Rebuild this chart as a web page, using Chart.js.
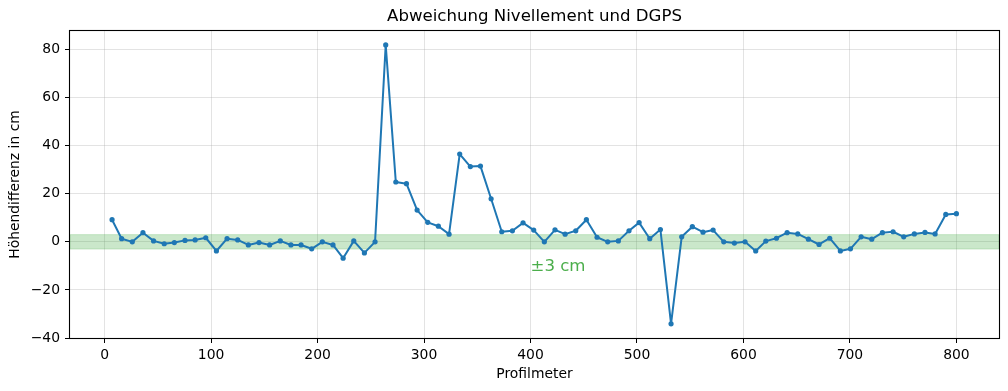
<!DOCTYPE html>
<html>
<head>
<meta charset="utf-8">
<script src="https://cdn.jsdelivr.net/npm/chart.js@4"></script>
<style>
  body { margin: 0; background: #fff; }
  canvas { display: block; }
</style>
</head>
<body>
<canvas id="deviationChart" width="1008" height="391"></canvas>
<script>
// Profilmeter (m) and Höhendifferenz (cm)
const profileMeters = [
  7, 16, 26, 36, 46, 56, 65.5, 75.5, 85, 95,
  105, 115, 125, 135, 145, 155, 165, 175, 184.5, 194.5,
  204.5, 214.5, 224, 234, 244, 254, 264, 273.5, 283.5, 293.5,
  303.5, 313.5, 323.5, 333.5, 343.5, 353, 363, 373, 383, 393,
  403, 413, 423, 432.5, 442.5, 452.5, 462.5, 472.5, 482.5, 492.5,
  502, 512, 522, 532, 542, 552, 562, 571.5, 581.5, 591.5,
  601.5, 611.5, 621, 631, 641, 651, 661, 671, 681, 691,
  700.5, 710.5, 720.5, 730.5, 740.5, 750.5, 760.5, 770.5, 780, 790,
  800
];
const heightDiff = [
  9.2, 1.3, 0, 3.8, 0.4, -0.8, -0.3, 0.6, 0.8, 1.7,
  -3.8, 1.3, 0.8, -1.3, -0.3, -1.3, 0.4, -1.3, -1.3, -2.9,
  0, -1.3, -6.8, 0.4, -4.6, 0, 81.9, 24.9, 24.2, 13.2,
  8.1, 6.5, 3.2, 36.5, 31.3, 31.5, 17.9, 4.2, 4.6, 7.9,
  4.9, 0, 5, 3.2, 4.6, 9.2, 1.9, 0, 0.4, 4.6,
  8, 1.3, 5.1, -34.1, 2.1, 6.3, 4, 4.9, 0, -0.5,
  0, -3.8, 0.3, 1.5, 3.8, 3.3, 1.1, -1.1, 1.5, -3.8,
  -2.9, 2.1, 1.1, 3.8, 4.2, 2.1, 3.3, 3.9, 3.3, 11.4,
  11.7
];
const xTicks = [0, 100, 200, 300, 400, 500, 600, 700, 800];
const yTicks = [-40, -20, 0, 20, 40, 60, 80];
const tolerance = 3; // ±3 cm band

const fontFamily = '"DejaVu Sans", sans-serif';
const gridColor = 'rgba(176, 176, 176, 0.35)';

// band, frame, title and band label
const extrasPlugin = {
  id: 'extras',
  beforeDatasetsDraw(chart) {
    const {ctx, chartArea, scales} = chart;
    const yTop = scales.y.getPixelForValue(tolerance);
    const yBot = scales.y.getPixelForValue(-tolerance);
    ctx.save();
    ctx.fillStyle = 'rgba(44, 160, 44, 0.25)';
    ctx.fillRect(chartArea.left, yTop, chartArea.right - chartArea.left, yBot - yTop);
    ctx.strokeStyle = 'rgba(44, 160, 44, 0.2)';
    ctx.lineWidth = 1;
    ctx.strokeRect(chartArea.left, yTop, chartArea.right - chartArea.left, yBot - yTop);
    ctx.restore();
  },
  afterDraw(chart) {
    const {ctx, chartArea, scales} = chart;
    ctx.save();
    ctx.strokeStyle = '#000';
    ctx.lineWidth = 1.1;
    ctx.strokeRect(chartArea.left - 0.5, chartArea.top - 0.5,
      chartArea.right - chartArea.left + 1, chartArea.bottom - chartArea.top + 1);

    ctx.fillStyle = 'rgba(44, 160, 44, 0.85)';
    ctx.font = '16.6px ' + fontFamily;
    ctx.textAlign = 'left';
    ctx.textBaseline = 'alphabetic';
    ctx.fillText('±3 cm', scales.x.getPixelForValue(400), scales.y.getPixelForValue(-12.3));

    ctx.fillStyle = '#000';
    ctx.textAlign = 'center';
    ctx.textBaseline = 'middle';
    ctx.fillText('Abweichung Nivellement und DGPS', (chartArea.left + chartArea.right) / 2, 17);
    ctx.restore();
  }
};

const ctx = document.getElementById('deviationChart').getContext('2d');
const deviationChart = new Chart(ctx, {
  type: 'scatter',
  data: {
    datasets: [{
      label: 'Höhendifferenz',
      data: profileMeters.map((x, i) => ({x: x, y: heightDiff[i]})),
      showLine: true,
      borderColor: '#1f77b4',
      borderWidth: 2,
      borderJoinStyle: 'round',
      borderCapStyle: 'round',
      pointRadius: 2.6,
      pointBackgroundColor: '#1f77b4',
      pointBorderWidth: 0,
      pointHoverRadius: 2.6
    }]
  },
  options: {
    responsive: false,
    animation: false,
    devicePixelRatio: 1,
    layout: {padding: {top: 31, right: 9, left: 0, bottom: 0}},
    plugins: {
      legend: {display: false},
      tooltip: {enabled: false},
      title: {display: false}
    },
    scales: {
      x: {
        type: 'linear',
        min: -32.5,
        max: 840,
        afterBuildTicks: scale => { scale.ticks = xTicks.map(v => ({value: v})); },
        afterFit: scale => { scale.height = 53; },
        grid: {color: gridColor, tickColor: '#000', tickLength: 5, lineWidth: 1},
        border: {display: false},
        ticks: {color: '#000', padding: 4, font: {family: fontFamily, size: 13.9}},
        title: {
          display: true,
          text: 'Profilmeter',
          color: '#000',
          font: {family: fontFamily, size: 13.9},
          padding: {top: 0, bottom: 8.5}
        }
      },
      y: {
        type: 'linear',
        min: -40,
        max: 87.7,
        afterBuildTicks: scale => { scale.ticks = yTicks.map(v => ({value: v})); },
        afterFit: scale => { scale.width = 70; },
        grid: {color: gridColor, tickColor: '#000', tickLength: 5, lineWidth: 1},
        border: {display: false},
        ticks: {
          color: '#000',
          padding: 5,
          font: {family: fontFamily, size: 13.9},
          callback: v => String(v).replace('-', '\u2212')
        },
        title: {
          display: true,
          text: 'Höhendifferenz in cm',
          color: '#000',
          font: {family: fontFamily, size: 13.9},
          padding: {top: 7, bottom: 0}
        }
      }
    }
  },
  plugins: [extrasPlugin]
});
</script>
</body>
</html>
